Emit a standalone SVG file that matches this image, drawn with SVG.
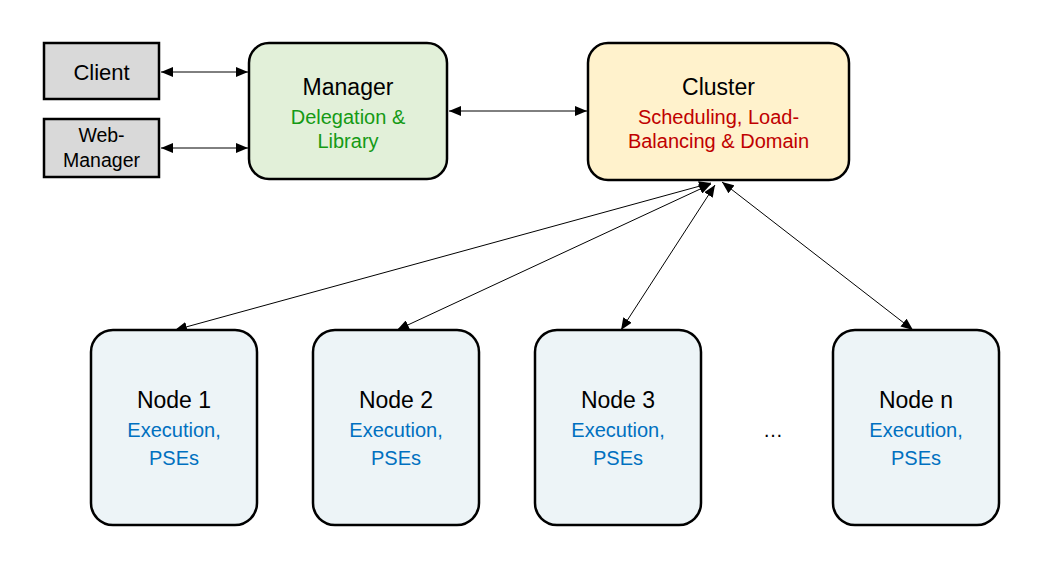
<svg xmlns="http://www.w3.org/2000/svg" width="1050" height="562" viewBox="0 0 1050 562">
<style>
.box{stroke:#000;stroke-width:2.5}
.gray{fill:#d9d9d9}
.green{fill:#e2f0d9}
.yellow{fill:#fff2cc}
.node{fill:#edf4f7}
text{font-family:"Liberation Sans",Arial,sans-serif;text-anchor:middle}
.t{font-size:23px;fill:#000}
.s{font-size:19.5px;fill:#000}
.g{font-size:20px;fill:#159a15}
.r{font-size:20px;fill:#c00000}
.b{font-size:20px;fill:#0070c0}
.c{stroke:#000;stroke-width:1;fill:none;marker-start:url(#ah);marker-end:url(#ah)}
</style>
<defs>
<marker id="ah" viewBox="0 0 12 10" refX="12" refY="5" markerWidth="12" markerHeight="10" markerUnits="userSpaceOnUse" orient="auto-start-reverse">
<path d="M0,0 L12,5 L0,10 Z" fill="#000"/>
</marker>
</defs>
<rect width="1050" height="562" fill="#fff"/>
<g id="connectors">
<line class="c" x1="161" y1="72" x2="248" y2="72"/>
<line class="c" x1="161" y1="148" x2="248" y2="148"/>
<line class="c" x1="449" y1="111" x2="587" y2="111"/>
<line class="c" x1="711" y1="183" x2="175" y2="330"/>
<line class="c" x1="711" y1="184" x2="397" y2="330"/>
<line class="c" x1="715" y1="185" x2="621" y2="330"/>
<line class="c" x1="722" y1="182" x2="913" y2="330"/>
</g>
<g id="client">
<rect class="box gray" x="44" y="43" width="115" height="56"/>
<text x="101.5" y="80" style="font-size:22px">Client</text>
</g>
<g id="web-manager">
<rect class="box gray" x="44" y="119" width="115" height="58"/>
<text class="s" x="101.5" y="142">Web-</text>
<text class="s" x="101.5" y="167">Manager</text>
</g>
<g id="manager">
<rect class="box green" x="249" y="43" width="198" height="136" rx="20" ry="20"/>
<text class="t" x="348" y="95">Manager</text>
<text class="g" x="348" y="124">Delegation &amp;</text>
<text class="g" x="348" y="148">Library</text>
</g>
<g id="cluster">
<rect class="box yellow" x="588" y="43" width="261" height="137" rx="20" ry="20"/>
<text class="t" x="718.5" y="95">Cluster</text>
<text class="r" x="718.5" y="124">Scheduling, Load-</text>
<text class="r" x="718.5" y="148">Balancing &amp; Domain</text>
</g>
<g id="node1">
<rect class="box node" x="91" y="330" width="166" height="195" rx="22" ry="22"/>
<text class="t" x="174" y="408">Node 1</text>
<text class="b" x="174" y="437">Execution,</text>
<text class="b" x="174" y="465">PSEs</text>
</g>
<g id="node2">
<rect class="box node" x="313" y="330" width="166" height="195" rx="22" ry="22"/>
<text class="t" x="396" y="408">Node 2</text>
<text class="b" x="396" y="437">Execution,</text>
<text class="b" x="396" y="465">PSEs</text>
</g>
<g id="node3">
<rect class="box node" x="535" y="330" width="166" height="195" rx="22" ry="22"/>
<text class="t" x="618" y="408">Node 3</text>
<text class="b" x="618" y="437">Execution,</text>
<text class="b" x="618" y="465">PSEs</text>
</g>
<g id="ellipsis">
<text x="773" y="437" style="font-size:20px">…</text>
</g>
<g id="noden">
<rect class="box node" x="833" y="330" width="166" height="195" rx="22" ry="22"/>
<text class="t" x="916" y="408">Node n</text>
<text class="b" x="916" y="437">Execution,</text>
<text class="b" x="916" y="465">PSEs</text>
</g>
</svg>
